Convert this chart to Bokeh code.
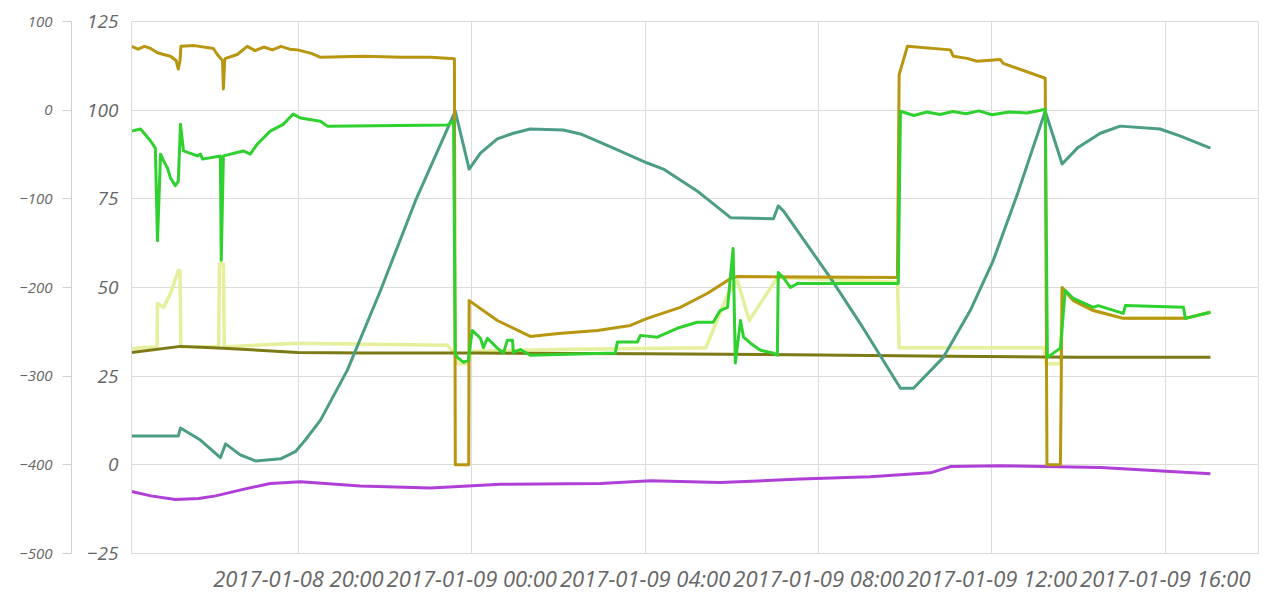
import pandas as pd
from bokeh.plotting import figure
from bokeh.models import (Range1d, LinearAxis, SingleIntervalTicker, FixedTicker,
                          DatetimeTickFormatter)
from bokeh.embed import file_html
from bokeh.resources import INLINE

# ---------------- data (hours since 2017-01-08 00:00) ----------------
BASE = pd.Timestamp("2017-01-08 00:00")
X_START_H = 16.15
X_END_H = 42.15

x_tick_labels = ["2017-01-08 20:00", "2017-01-09 00:00", "2017-01-09 04:00",
                 "2017-01-09 08:00", "2017-01-09 12:00", "2017-01-09 16:00"]

gold_h = [16.15, 16.3, 16.45, 16.59, 16.75, 16.89, 17.05, 17.18, 17.23, 17.27, 17.29, 17.6, 18.04,
          18.13, 18.25, 18.27, 18.30, 18.32, 18.59, 18.82, 19.0, 19.2, 19.4, 19.6, 19.8, 19.98,
          20.3, 20.51, 21.5, 22.4, 23.05, 23.51, 23.60,
          23.62, 23.93, 23.94, 24.59, 25.35, 26.0, 26.90, 27.66, 28.05, 28.81, 29.43, 29.97,
          30.13, 33.82, 33.86, 34.05, 35.04, 35.11, 35.43, 35.66, 36.19, 36.26, 37.23, 37.27,
          37.58, 37.62, 37.88, 38.34, 39.03, 40.46, 41.04]
gold_v = [118, 117.2, 118, 117.4, 116.2, 115.7, 115.2, 114, 111.6, 114, 118, 118.2, 117.4,
          115.7, 114, 106, 114, 114.6, 115.7, 118, 116.8, 117.8, 117, 118, 117.2, 117,
          116, 114.9, 115.2, 114.9, 114.9, 114.6, 114.5,
          0, 0, 46.3, 40.7, 36.2, 37, 37.9, 39.3, 41.3, 44.4, 48.3, 52.5,
          53.1, 52.8, 110, 118, 117, 115.2, 114.6, 113.8, 114.3, 113.2, 109, 0,
          0, 50, 46.3, 43.5, 41.3, 41.3, 43]

green_h = [16.15, 16.36, 16.59, 16.70, 16.75, 16.82, 16.89, 16.98, 17.05, 17.16, 17.23, 17.28,
           17.35, 17.67, 17.74, 17.79, 18.20, 18.22, 18.27, 18.73, 18.89, 19.05, 19.35, 19.65,
           19.88, 20.05, 20.51, 20.67, 23.44, 23.58, 23.62, 23.67, 23.81, 23.92, 24.01, 24.20,
           24.27, 24.36, 24.59, 24.73, 24.82, 24.94, 24.96, 25.12, 25.35, 27.31, 27.36, 27.82,
           27.89, 28.28, 28.74, 29.20, 29.57, 29.73, 29.90, 30.03, 30.08, 30.20, 30.27, 30.43,
           30.66, 30.96, 31.05, 31.07, 31.19, 31.35, 31.51, 33.84, 33.89, 34.2, 34.5, 34.8,
           35.1, 35.4, 35.7, 36.0, 36.4, 36.8, 37.1, 37.23, 37.28, 37.58, 37.69, 37.88,
           38.34, 38.45, 39.03, 39.08, 40.42, 40.46, 41.04]
green_v = [94.1, 94.7, 91.3, 89.3, 63.2, 87.6, 85.7, 83.7, 80.9, 78.7, 80, 96,
           88.5, 87.1, 87.6, 86.2, 87.1, 57.6, 87.1, 88.5, 87.6, 90.4, 94.1, 96,
           98.9, 97.8, 96.9, 95.5, 95.8, 96.9, 31.5, 30.3, 28.9, 29.5, 37.9, 35.7,
           33, 35.7, 32.9, 31.5, 35.1, 35.1, 31.7, 32.5, 30.9, 31.5, 34.6, 34.6,
           36.5, 36, 38.5, 40.2, 40.2, 43.5, 44.4, 61, 28.7, 40.7, 36, 34.3,
           32.3, 31.5, 30.9, 54.2, 52.8, 50, 51.1, 51.1, 99.7, 98.5, 99.5, 98.8,
           99.6, 99, 99.8, 98.7, 99.5, 99.2, 99.9, 100.3, 30.3, 32.9, 49.2, 46.9,
           44.4, 44.9, 42.7, 44.9, 44.4, 41.3, 43]

teal_h = [16.15, 17.23, 17.28, 17.74, 18.20, 18.32, 18.66, 19.01, 19.59, 19.93, 20.16, 20.51,
          21.13, 21.89, 22.70, 23.62, 23.94, 24.20, 24.59, 24.96, 25.35, 26.11, 26.51, 27.27,
          28.05, 28.42, 29.20, 29.43, 29.97, 30.96, 31.07, 31.19, 32.27, 32.96, 33.89, 34.19,
          34.88, 35.50, 36.03, 36.59, 37.23, 37.62, 37.97, 38.50, 38.96, 39.88, 40.35, 41.04]
teal_v = [8.1, 8.1, 10.4, 7, 2, 5.9, 2.8, 1.1, 1.7, 3.7, 7, 12.6,
          26.7, 49, 74.4, 99.7, 83.4, 87.9, 91.9, 93.5, 94.7, 94.4, 93.3, 89.3,
          85.1, 83.4, 77.2, 75, 69.7, 69.4, 73, 71.6, 52.8, 39.9, 21.6, 21.6,
          30.3, 43.5, 57.6, 76.4, 99.7, 84.8, 89.3, 93.5, 95.5, 94.7, 92.7, 89.3]

pale_h = [16.15, 16.74, 16.75, 16.89, 17.05, 17.23, 17.27, 17.29, 18.16, 18.18, 18.27, 18.29,
          19.98, 23.44, 23.62, 23.67, 23.92, 24.0, 26.0, 29.4, 29.9, 30.13, 30.40, 31.05,
          33.82, 33.86, 37.2, 37.25, 37.58, 37.62, 37.88, 38.34, 39.03, 40.46, 41.04]
pale_v = [32.8, 33.3, 45.5, 44.4, 48.3, 54.8, 54.8, 33.3, 33.3, 56.7, 56.7, 33.3,
          34.3, 33.7, 31, 28.5, 28.5, 32, 32.5, 33, 48, 52, 40.7, 52.8,
          51.5, 33, 33, 28.5, 28.5, 49.5, 46.3, 43.5, 41.3, 41.3, 43]

olive_h = [16.15, 17.28, 18.27, 19.98, 21.5, 24.0, 28.0, 32.0, 35.0, 38.0, 41.04]
olive_v = [31.7, 33.4, 32.9, 31.7, 31.5, 31.5, 31.3, 31.0, 30.6, 30.3, 30.3]

# purple series is on the outer (left-most) axis
purple_h = [16.15, 16.6, 17.16, 17.7, 18.09, 18.7, 19.35, 20.05, 21.43, 23.05, 24.66, 26.97,
            28.12, 29.73, 31.58, 33.19, 34.58, 35.04, 36.19, 38.50, 41.04]
purple_v = [-430, -435, -439, -438, -435, -428, -421, -419, -424, -426, -422, -421,
            -418, -420, -416, -413.5, -409, -402, -401, -403, -410]


def to_t(hours):
    return BASE + pd.to_timedelta(pd.Series(hours, dtype=float), unit="h")


# ---------------- figure ----------------
TXT = "#666666"
GRID = "#dcdcdc"
FONT = "Open Sans"

p = figure(width=1270, height=595, x_axis_type="datetime",
           x_range=Range1d(BASE + pd.Timedelta(hours=X_START_H), BASE + pd.Timedelta(hours=X_END_H)),
           y_range=Range1d(-25, 125),
           output_backend="svg", toolbar_location=None,
           min_border_left=131, min_border_right=12, min_border_top=21, min_border_bottom=0)
p.extra_y_ranges = {"outer": Range1d(-500, 100)}
p.outline_line_color = GRID
p.background_fill_color = "white"

# x axis
tick_ms = [pd.Timestamp(s).value // 10**6 for s in x_tick_labels]
p.xaxis.ticker = FixedTicker(ticks=tick_ms)
fmt = "%Y-%m-%d %H:%M"
p.xaxis.formatter = DatetimeTickFormatter(hours=fmt, hourmin=fmt, days=fmt, months=fmt,
                                          minutes=fmt, years=fmt, minsec=fmt, seconds=fmt,
                                          milliseconds=fmt, microseconds=fmt,
                                          strip_leading_zeros=False)
p.xaxis.axis_line_color = None
p.xaxis.major_tick_line_color = None
p.xaxis.minor_tick_line_color = None
p.xaxis.major_label_text_font = FONT
p.xaxis.major_label_text_font_style = "italic"
p.xaxis.major_label_text_font_size = "22px"
p.xaxis.major_label_text_color = TXT
p.xaxis.major_label_standoff = 3

# inner y axis
yi = p.yaxis[0]
yi.ticker = SingleIntervalTicker(interval=25)
yi.axis_line_color = GRID
yi.major_tick_line_color = None
yi.minor_tick_line_color = None
yi.major_label_text_font = FONT
yi.major_label_text_font_style = "italic"
yi.major_label_text_font_size = "19px"
yi.major_label_text_color = TXT
yi.major_label_standoff = 7
yi.axis_label = "\u00a0"
yi.axis_label_text_font_size = "6px"
yi.axis_label_standoff = 4

# outer y axis
yo = LinearAxis(y_range_name="outer", ticker=SingleIntervalTicker(interval=100))
yo.axis_line_color = "#cfcfcf"
yo.major_tick_line_color = "#cfcfcf"
yo.major_tick_out = 9
yo.major_tick_in = 0
yo.minor_tick_line_color = None
yo.major_label_text_font = FONT
yo.major_label_text_font_style = "italic"
yo.major_label_text_font_size = "15px"
yo.major_label_text_color = TXT
yo.major_label_standoff = 10
p.add_layout(yo, "left")

p.xgrid.grid_line_color = GRID
p.ygrid.grid_line_color = GRID

# ---------------- lines ----------------
p.line(to_t(pale_h), pale_v, line_color="#e6ef9c", line_width=3.5, line_join="round")
p.line(to_t(olive_h), olive_v, line_color="#7d7a16", line_width=3, line_join="round")
p.line(to_t(purple_h), purple_v, y_range_name="outer", line_color="#b03fd8", line_width=3,
       line_join="round")
p.line(to_t(teal_h), teal_v, line_color="#4b9d86", line_width=3, line_join="round")
p.line(to_t(gold_h), gold_v, line_color="#b8960f", line_width=3, line_join="round")
p.line(to_t(green_h), green_v, line_color="#2fd12f", line_width=3, line_join="round")

open("out.html", "w").write(file_html(p, INLINE))
